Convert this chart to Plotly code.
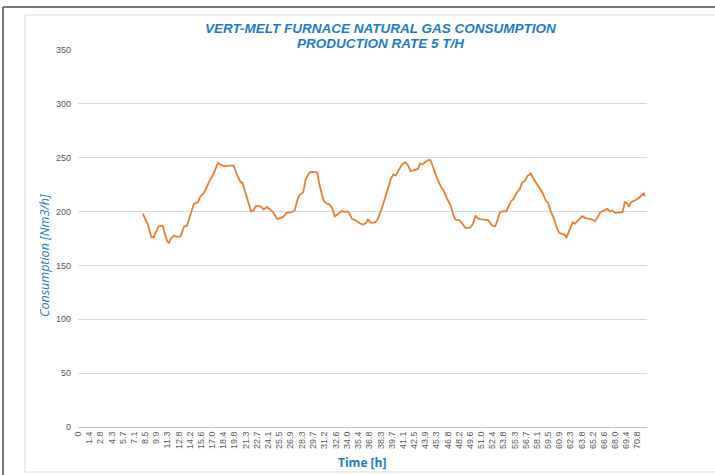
import plotly.graph_objects as go

# ---- data ----
time_h = [8.2, 8.6, 8.85, 9.27, 9.57, 9.9, 10.2, 10.6, 10.75, 10.96, 11.29, 11.5, 11.8, 12.14, 12.43, 12.98,
          13.4, 13.8, 14.24, 14.67, 15.17, 15.5, 15.93, 16.35, 16.77, 17.07, 17.36, 17.7, 18.0, 18.6, 19.17,
          19.7, 20.2, 20.6, 20.8, 21.3, 21.9, 22.2, 22.5, 22.9, 23.2, 23.5, 23.9, 24.3, 24.7, 25.2, 25.5,
          25.96, 26.4, 27.0, 27.4, 27.85, 28.1, 28.5, 28.8, 29.3, 29.75, 30.26, 30.6, 31.1, 31.5, 31.86,
          32.2, 32.5, 32.9, 33.3, 33.76, 34.0, 34.3, 34.7, 35.1, 35.7, 36.1, 36.4, 36.7, 37.1, 37.6, 37.9,
          38.4, 38.9, 39.3, 39.6, 39.9, 40.2, 40.5, 41.0, 41.4, 41.7, 42.1, 42.6, 43.0, 43.3, 43.6, 43.9,
          44.3, 44.6, 45.0, 45.5, 46.0, 46.2, 46.65, 47.1, 47.5, 47.75, 48.2, 48.5, 48.8, 49.0, 49.6, 50.0,
          50.3, 50.5, 50.9, 51.5, 51.9, 52.4, 52.8, 53.1, 53.4, 53.85, 54.2, 54.5, 54.8, 55.1, 55.5, 55.9,
          56.2, 56.6, 56.9, 57.2, 57.3, 57.7, 58.1, 58.5, 58.8, 59.2, 59.5, 59.8, 60.2, 60.6, 60.9, 61.4,
          61.6, 61.8, 62.1, 62.6, 62.9, 63.2, 63.4, 63.8, 64.2, 64.7, 65.1, 65.4, 65.7, 66.1, 66.5, 66.97,
          67.3, 67.6, 68.0, 68.5, 68.9, 69.2, 69.5, 69.7, 70.0, 70.5, 71.0, 71.4, 71.6, 71.7]

consumption = [198, 191, 188, 176.5, 176, 181.7, 186.4, 187, 186.5, 180, 172.4, 171, 175.5, 177.7, 176.5, 177,
               185.8, 187, 197.2, 207.4, 208.7, 214, 217.3, 224, 230.3, 233.4, 239.6, 245.2, 243.6, 242, 242.7,
               242.7, 232.8, 227, 227, 214, 200.3, 201, 205, 205, 204.3, 202, 204.3, 202, 199.4, 193, 194,
               195, 198.8, 199.4, 201, 212.7, 215.8, 218, 229.7, 236.5, 236.8, 236.5, 223.5, 209.6, 207.4, 206.5,
               202.5, 195.7, 197.8, 200.3, 199.7, 200.3, 198.8, 193, 192, 188.9, 188, 189, 192.6, 189.5, 190, 192.6,
               201.9, 214, 225, 230.3, 234.4, 233.4, 237.5, 243.7, 245.8, 243.7, 237.5, 239, 239.6, 244.6, 243.7, 245.8,
               247.7, 247.7, 239.6, 229.7, 222, 220.4, 212.7, 206.5, 197.2, 192.6, 192, 190, 187, 184.8, 184.8, 188.9,
               196.3, 194, 193, 192.6, 192, 187, 186.4, 192.6, 199.4, 200.3, 200.3, 205, 209.6, 211.8, 217.3, 221,
               226.6, 229, 233.4, 234.4, 235.3, 229.7, 225, 221, 217.3, 210, 208, 200.3, 194, 184.8, 180.2, 178.6,
               178.6, 175.5, 181.7, 190, 188.9, 191, 192, 195.7, 194, 193.5, 192.6, 191, 194, 199.4, 201, 202.5,
               200.3, 201, 198.8, 198.8, 199.4, 208.7, 207.4, 204.3, 208.7, 210.5, 212.7, 215.8, 216.8, 214]

x_tick_labels = ["0", "1.4", "2.8", "4.3", "5.7", "7.1", "8.5", "9.9", "11.3", "12.8", "14.2", "15.6", "17.0",
                 "18.4", "19.8", "21.3", "22.7", "24.1", "25.5", "26.9", "28.3", "29.7", "31.2", "32.6", "34.0",
                 "35.4", "36.8", "38.3", "39.7", "41.1", "42.5", "43.9", "45.3", "46.8", "48.2", "49.6", "51.0",
                 "52.4", "53.8", "55.3", "56.7", "58.1", "59.5", "60.9", "62.3", "63.8", "65.2", "66.6", "68.0",
                 "69.4", "70.8"]
y_ticks = [0, 50, 100, 150, 200, 250, 300, 350]

title_line1 = "VERT-MELT FURNACE NATURAL GAS CONSUMPTION"
title_line2 = "PRODUCTION RATE 5 T/H"
x_title = "Time [h]"
y_title = "Consumption [Nm3/h]"

BLUE = "#1F7BC8"
GRAY = "#595959"
TITLE_FONT = dict(size=13.5, color=BLUE, family="Liberation Sans, Arial, sans-serif")

fig = go.Figure()
fig.add_trace(go.Scatter(x=time_h, y=consumption, mode="lines",
                         line=dict(color="#ED7D31", width=1.8), showlegend=False))

fig.update_layout(
    width=715, height=475,
    margin=dict(l=78, r=68, t=50, b=48),
    paper_bgcolor="white", plot_bgcolor="white",
    font=dict(family="Liberation Sans, Arial, sans-serif", color=GRAY),
    xaxis=dict(range=[0, 72], tickmode="array",
               tickvals=[float(s) for s in x_tick_labels], ticktext=x_tick_labels,
               tickangle=-90, tickfont=dict(size=9, color=GRAY),
               showgrid=False, zeroline=False, showline=True, linecolor="#BFBFBF", linewidth=1,
               ticks="", ticklen=0),
    yaxis=dict(range=[0, 350], tickmode="array", tickvals=y_ticks,
               tickfont=dict(size=9, color=GRAY), showgrid=True, gridcolor="#D9D9D9", gridwidth=1,
               zeroline=False, showline=False, ticks="", ticklabelstandoff=6),
    annotations=[
        dict(text="<b><i>" + title_line1 + "</i></b>",
             xref="paper", yref="paper", x=0.5325, y=(427 - 29) / 377, xanchor="center", yanchor="middle",
             showarrow=False, font=TITLE_FONT),
        dict(text="<b><i>" + title_line2 + "</i></b>",
             xref="paper", yref="paper", x=0.5325, y=(427 - 43) / 377, xanchor="center", yanchor="middle",
             showarrow=False, font=TITLE_FONT),
        dict(text="<b>" + x_title + "</b>", xref="paper", yref="paper", x=0.499, y=-0.093,
             xanchor="center", yanchor="middle", showarrow=False,
             font=dict(size=12, color=BLUE, family="Open Sans, Liberation Sans, sans-serif")),
        dict(text="<i>" + y_title + "</i>", xref="paper", yref="paper", x=-0.06, y=0.456,
             xanchor="center", yanchor="middle", textangle=-90, showarrow=False,
             font=dict(size=12.5, color=BLUE, family="Open Sans, Liberation Sans, sans-serif")),
    ],
    shapes=[
        # outer dark frame (left and top)
        dict(type="line", xref="paper", yref="paper", x0=-0.1318, x1=-0.1318, y0=1.114, y1=-0.2,
             line=dict(color="#4D4D4D", width=1.5)),
        dict(type="line", xref="paper", yref="paper", x0=-0.1318, x1=1.2, y0=1.114, y1=1.114,
             line=dict(color="#4D4D4D", width=1.5)),
        # inner light chart-area box
        dict(type="rect", xref="paper", yref="paper", x0=-0.0931, x1=1.2, y0=-0.1194, y1=1.093,
             line=dict(color="#D9D9D9", width=1)),
    ],
)

fig.write_html("out.html", config={"displayModeBar": False},
               post_script="document.body.style.margin='0';document.body.style.padding='0';"
                           "document.documentElement.style.overflow='hidden';")
